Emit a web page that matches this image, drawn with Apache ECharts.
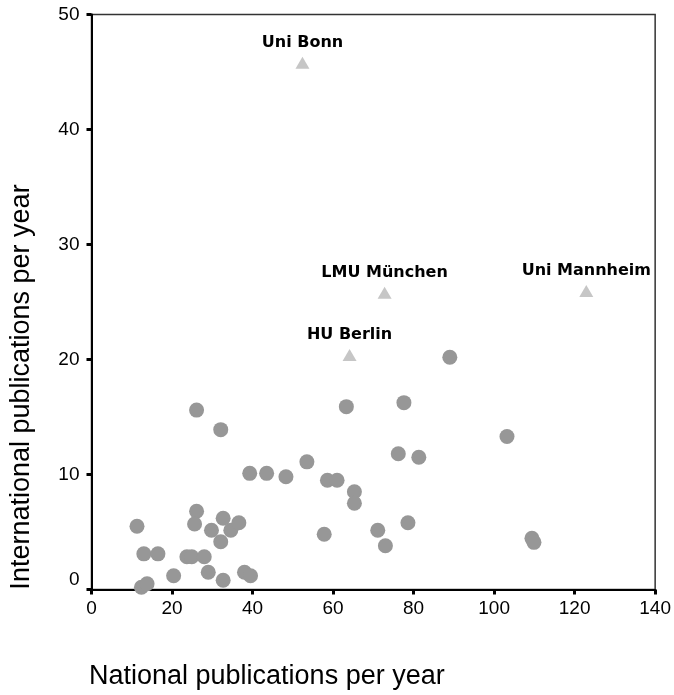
<!DOCTYPE html>
<html>
<head>
<meta charset="utf-8">
<script src="https://cdn.jsdelivr.net/npm/echarts@6/dist/echarts.min.js"></script>
<style>
html,body{margin:0;padding:0;background:#fff;}
#chart{width:674px;height:695px;}
</style>
</head>
<body>
<div id="chart"></div>
<script>
// Other universities (grey circles)
const nationalPubs = [11.3, 13.0, 16.5, 12.4, 13.8, 20.4, 23.7, 24.9, 28.0, 26.1, 26.1, 25.6, 29.8, 29.0, 32.1, 32.7, 32.1, 32.7, 34.6, 36.6, 38.0, 39.5, 39.3, 43.5, 48.3, 53.5, 57.8, 58.6, 61.0, 63.3, 65.3, 65.3, 71.1, 73.0, 76.2, 77.6, 78.6, 81.3, 89.0, 103.2, 109.4, 109.9];
const internationalPubs = [5.5, 3.1, 3.1, 0.2, 0.5, 1.2, 2.85, 2.85, 2.85, 15.6, 6.8, 5.7, 5.15, 1.5, 13.9, 6.2, 4.15, 0.8, 5.15, 5.8, 1.5, 1.2, 10.1, 10.1, 9.8, 11.1, 4.8, 9.5, 9.5, 15.9, 8.5, 7.5, 5.15, 3.8, 11.8, 16.25, 5.8, 11.5, 20.2, 13.3, 4.45, 4.1];

// Highlighted universities (triangles)
const highlightNames = ["Uni Bonn", "LMU München", "Uni Mannheim", "HU Berlin"];
const highlightNational = [52.4, 72.8, 122.9, 64.1];
const highlightInternational = [45.8, 25.8, 25.95, 20.4];

// Axis ticks
const xTicks = [0, 20, 40, 60, 80, 100, 120, 140];
const yTicks = [0, 10, 20, 30, 40, 50];

const circleData = nationalPubs.map((x, i) => [x, internationalPubs[i]]);
const triData = highlightNational.map((x, i) => ({ name: highlightNames[i], value: [x, highlightInternational[i]] }));

const chart = echarts.init(document.getElementById('chart'), null, { renderer: 'canvas' });
const labelFont = 'Liberation Sans, Arial, sans-serif';
chart.setOption({
  animation: false,
  backgroundColor: '#ffffff',
  grid: {
    left: 89, right: 17, top: 14.5, bottom: 102,
    show: true, borderColor: '#333', borderWidth: 1.5, backgroundColor: 'transparent'
  },
  xAxis: {
    type: 'value',
    min: xTicks[0], max: xTicks[xTicks.length - 1], interval: 20,
    name: 'National publications per year',
    nameLocation: 'middle',
    nameGap: 87,
    nameTextStyle: { fontFamily: labelFont, fontSize: 27, color: '#000', verticalAlign: 'middle', padding: [0, 213, 0, 0] },
    axisLine: { show: true, onZero: false, lineStyle: { color: '#000', width: 2 } },
    axisTick: { show: true, length: 5, lineStyle: { color: '#000', width: 3 } },
    axisLabel: { fontFamily: labelFont, fontSize: 19, color: '#000', margin: 10 },
    splitLine: { show: false }
  },
  yAxis: {
    type: 'value',
    min: yTicks[0], max: yTicks[yTicks.length - 1], interval: 10,
    name: 'International publications per year',
    nameLocation: 'middle',
    nameGap: 70,
    nameRotate: 90,
    nameTextStyle: { fontFamily: labelFont, fontSize: 27, color: '#000', verticalAlign: 'middle', padding: [0, 170, 0, 0] },
    axisLine: { show: true, onZero: false, lineStyle: { color: '#000', width: 2 } },
    axisTick: { show: true, length: 5, lineStyle: { color: '#000', width: 3 } },
    axisLabel: {
      fontFamily: labelFont, fontSize: 19, color: '#000', margin: 12,
      formatter: function (v) { return v === 0 ? '{z|0}' : String(v); },
      rich: { z: { fontFamily: labelFont, fontSize: 19, color: '#000', padding: [0, 0, 20, 0] } }
    },
    splitLine: { show: false }
  },
  series: [
    {
      type: 'scatter',
      data: circleData,
      symbol: 'circle',
      symbolSize: 15,
      itemStyle: { color: '#979797', opacity: 1 }
    },
    {
      type: 'scatter',
      data: triData,
      symbol: 'triangle',
      symbolSize: [14, 12],
      itemStyle: { color: '#c6c6c6', opacity: 1 },
      label: {
        show: true,
        position: 'top',
        distance: 6,
        formatter: '{b}',
        fontFamily: 'DejaVu Sans, Verdana, sans-serif',
        fontWeight: 'bold',
        fontSize: 16,
        color: '#000'
      }
    }
  ]
});
</script>
</body>
</html>
